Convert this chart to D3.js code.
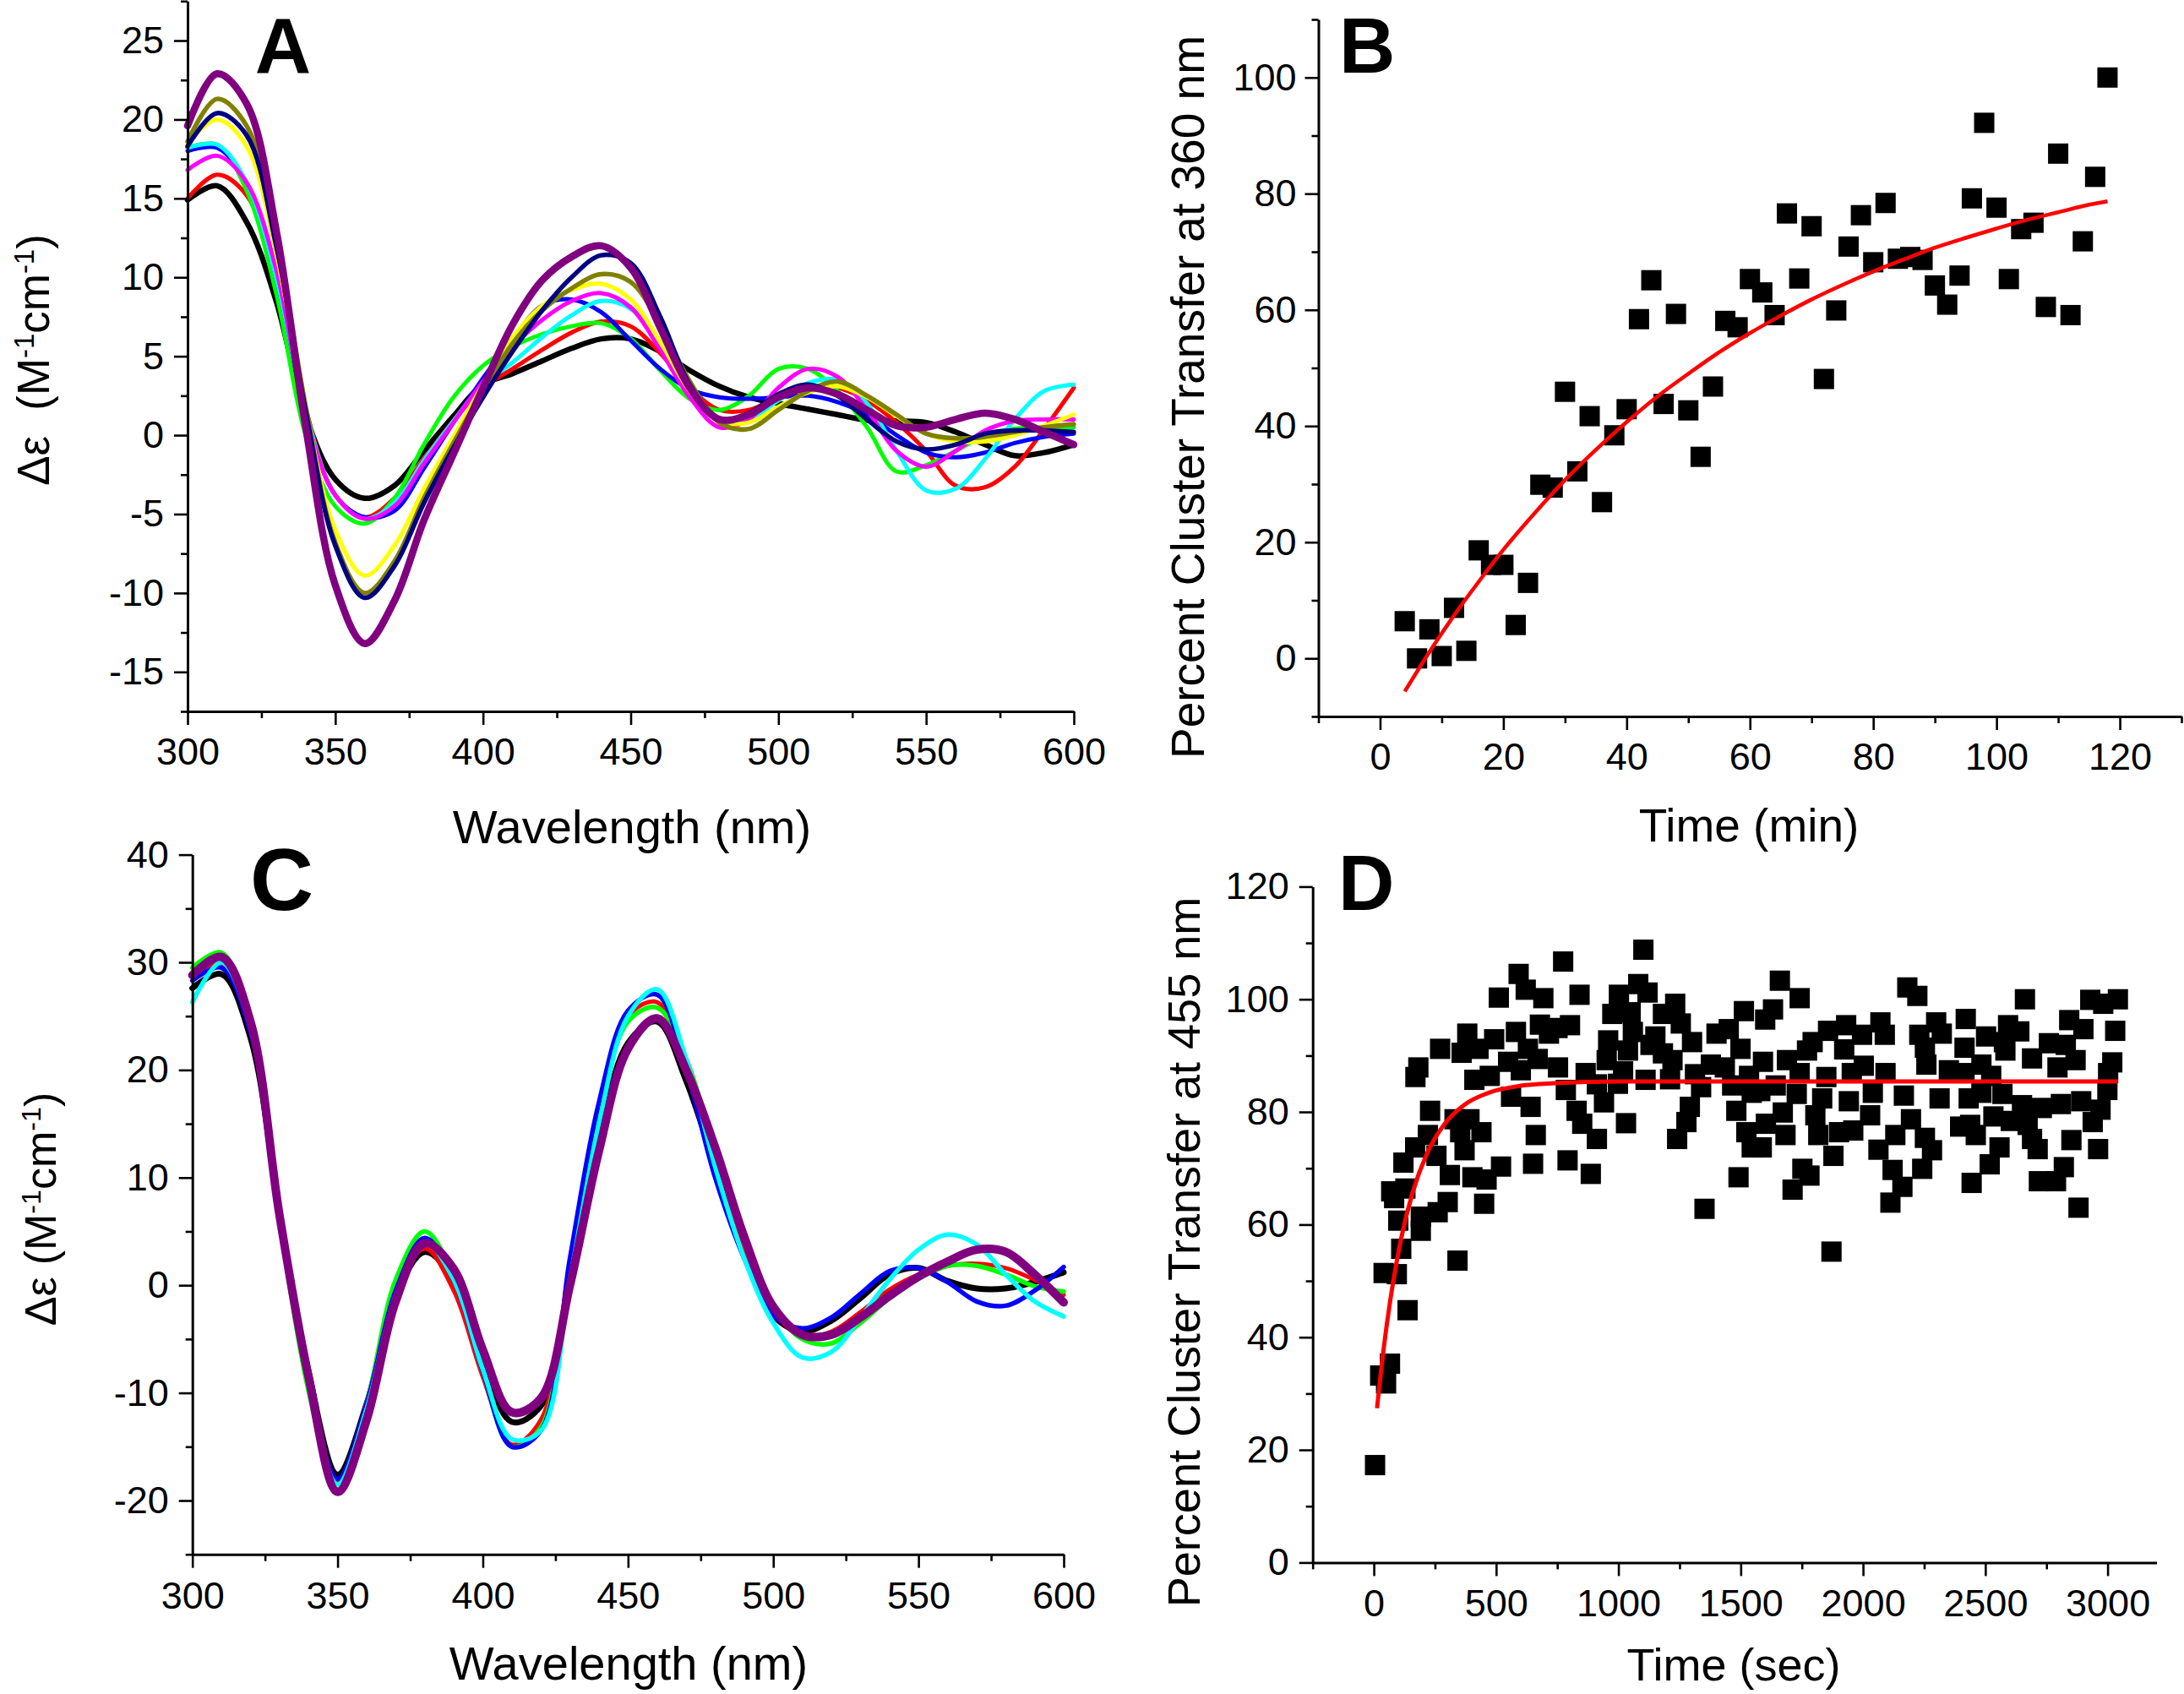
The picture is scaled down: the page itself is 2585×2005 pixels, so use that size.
<!DOCTYPE html>
<html><head><meta charset="utf-8">
<script src="https://cdn.jsdelivr.net/npm/d3@7"></script>
<style>
body{margin:0;background:#fff}
svg text{font-family:"Liberation Sans",Arial,Helvetica,sans-serif}
</style>
</head><body>
<svg id="fig" width="2585" height="2005" xmlns="http://www.w3.org/2000/svg"></svg>
<script>
// ---------------- Panel A: CD spectra (wavelength grid, nm) ----------------
const wlA = [300,310,320,330,340,350,360,370,380,390,400,410,420,430,440,450,460,470,480,490,500,510,520,530,540,550,560,570,580,590,600];
const aBlack   = [14.9,15.8,13.5,8.5,1.2,-2.8,-4.0,-3.2,-1.0,1.2,3.2,3.9,4.7,5.5,6.1,6.1,5.3,4.1,3.1,2.4,2.0,1.65,1.3,0.95,0.9,0.8,0.2,-0.6,-1.3,-1.1,-0.6];
const aRed     = [15.0,16.5,15.2,10.2,1.7,-3.8,-5.2,-4.0,-1.5,0.9,3.0,4.2,5.4,6.5,7.2,6.9,5.2,3.0,1.6,1.6,2.4,3.0,3.0,2.2,0.8,-1.0,-3.2,-3.3,-2.0,0.4,3.0];
const aGreen   = [18.2,18.4,15.5,9.0,0.0,-4.5,-5.6,-4.0,-0.6,2.4,4.4,5.6,6.4,6.9,7.1,6.1,4.1,2.3,1.6,2.5,4.2,4.2,2.8,0.5,-2.3,-1.9,-1.0,0.0,0.4,0.5,0.5];
const aBlue    = [18.0,18.2,16.0,10.0,1.5,-3.8,-5.2,-4.8,-2.1,0.8,3.6,6.1,8.2,8.6,7.8,6.0,4.2,2.9,2.4,2.3,2.4,2.5,2.1,1.3,0.0,-1.1,-1.4,-1.1,-0.5,-0.1,0.1];
const aCyan    = [18.2,18.4,16.0,10.0,1.5,-3.8,-5.3,-4.3,-1.6,0.9,3.2,4.6,6.2,7.6,8.5,8.0,5.9,3.0,1.0,1.0,2.2,3.3,3.5,2.0,-1.0,-3.5,-3.4,-1.5,1.0,2.8,3.2];
const aMagenta = [16.8,17.7,16.0,10.5,1.3,-3.8,-5.3,-4.5,-1.8,0.8,3.4,5.6,7.3,8.5,9.0,8.1,5.4,2.4,0.5,1.0,3.0,4.2,3.7,1.6,-1.0,-2.0,-1.0,0.3,0.9,1.0,1.0];
const aYellow  = [18.5,20.0,18.3,11.5,1.7,-6.0,-8.9,-7.0,-3.4,-0.1,3.2,6.2,8.2,9.2,9.6,8.6,5.9,2.8,0.9,0.8,1.8,2.7,3.1,2.4,1.2,0.1,-0.4,-0.4,0.0,0.6,1.3];
const aOlive   = [18.6,21.3,19.6,12.5,1.8,-6.8,-10.0,-8.0,-4.0,-0.5,2.8,5.8,7.9,9.3,10.2,9.7,7.0,3.4,0.8,0.4,1.6,2.8,3.4,2.5,1.3,0.1,-0.2,-0.1,0.2,0.5,0.7];
const aNavy    = [18.3,20.4,19.0,12.0,1.5,-7.0,-10.3,-8.3,-4.3,-0.8,2.4,5.3,7.9,10.0,11.4,10.9,7.5,3.2,1.0,1.4,2.6,3.2,2.5,1.0,-0.4,-0.9,-0.6,0.1,0.3,0.3,0.2];
const aPurple  = [19.6,22.9,21.0,13.0,0.5,-9.5,-13.2,-10.5,-5.4,-1.2,3.0,7.0,9.8,11.3,12.0,10.6,6.8,3.0,1.0,1.3,2.4,3.0,2.6,1.6,0.6,0.5,1.0,1.4,1.0,0.2,-0.6];

// ---------------- Panel C: CD spectra ----------------
const wlC = [300,310,320,330,340,350,360,370,380,390,400,410,420,430,440,450,460,470,480,490,500,510,520,530,540,550,560,570,580,590,600];
const cBlack  = [27.6,28.9,23.0,6.5,-8.0,-17.6,-11.0,-1.0,3.1,0.5,-7.0,-12.7,-11.2,0.5,13.5,22.5,24.5,19.0,11.0,3.0,-2.8,-4.3,-3.3,-1.2,1.0,1.6,0.4,-0.3,-0.3,0.3,1.2];
const cRed    = [28.8,29.9,23.5,6.5,-8.8,-18.3,-11.5,-1.0,3.4,-0.5,-8.5,-14.8,-12.5,2.0,16.0,25.0,26.3,20.5,11.5,3.5,-2.5,-4.7,-4.3,-2.5,-0.4,1.0,1.8,2.0,1.6,0.5,-0.9];
const cGreen  = [29.5,30.9,24.0,6.0,-9.8,-19.0,-11.0,0.5,5.0,0.8,-8.0,-15.0,-13.2,1.5,15.5,24.5,25.8,21.0,12.5,4.5,-2.0,-5.0,-5.4,-3.5,-1.2,0.6,1.8,1.8,1.0,-0.1,-0.6];
const cBlue   = [28.3,29.5,23.5,7.0,-8.5,-18.0,-11.0,-0.5,4.4,0.5,-8.0,-15.0,-13.5,2.5,17.0,25.5,27.0,20.0,10.0,2.5,-2.8,-4.0,-3.0,-0.8,1.3,1.6,0.3,-1.5,-1.9,-0.5,1.7];
const cCyan   = [26.3,30.0,24.0,7.0,-9.0,-18.5,-11.5,-1.0,4.0,0.5,-7.8,-14.3,-13.5,0.5,15.0,25.0,27.5,21.0,11.0,2.5,-3.5,-6.7,-6.2,-3.0,0.5,3.3,4.7,3.8,1.0,-1.5,-2.9];
const cPurple = [28.8,30.5,24.5,6.5,-8.5,-19.2,-12.5,-1.5,3.9,1.5,-6.0,-11.8,-10.5,0.0,12.5,22.0,24.8,20.0,12.8,4.5,-2.0,-4.6,-4.6,-3.0,-1.0,0.8,2.2,3.3,3.1,1.0,-1.6];

// ---------------- Panel B: cluster transfer at 360 nm ----------------
const bTime = [4,6,8,10,12,14,16,18,20,22,24,26,28,30,32,34,36,38,40,42,44,46,48,50,52,54,56,58,60,62,64,66,68,70,72,74,76,78,80,82,84,86,88,90,92,94,96,98,100,102,104,106,108,110,112,114,116,118];
const bPct  = [6.4,0,5.0,0.4,8.7,1.3,18.6,16.1,16.1,5.75,13.0,29.9,29.4,45.9,32.2,41.7,26.9,38.4,42.9,58.4,65.1,43.8,59.3,42.7,34.7,46.8,58.1,57.0,65.3,63.0,59.1,76.6,65.4,74.4,48.1,59.9,70.9,76.3,68.2,78.4,68.8,69.1,68.6,64.2,60.9,65.9,79.2,92.2,77.6,65.3,73.9,75.0,60.5,86.9,59.1,71.8,82.9,100];
const bFitTime = [4,8,12,16,20,25,30,35,40,45,50,55,60,65,70,75,80,85,90,95,100,105,110,115,118];
const bFitPct  = [-5.7,1.1,7.4,13.2,18.7,24.9,30.7,35.9,40.7,45.1,49.0,52.7,56.0,59.0,61.8,64.3,66.6,68.7,70.7,72.4,74.0,75.5,76.8,78.1,78.7];

// ---------------- Panel D: cluster transfer at 455 nm ----------------
const dTime = [5,26,50,66,138,
 592,621,693,511,581,679,716,382,492,271,359,428,630,182,170,549,411,474,601,670,561,641,230,330,391,440,221,353,169,256,371,662,121,311,403,461,520,651,71,129,83,302,451,100,192,261,192,112,342,40,94,
 774,1102,841,1002,1081,1119,975,1050,1182,1232,1255,802,751,1513,958,1059,1151,1301,1401,1451,1499,1221,952,1039,1131,1182,753,866,1019,1111,1211,1313,1378,1435,1534,785,912,998,1338,1465,1545,829,941,1292,1482,852,1031,1278,912,1240,1523,1545,792,887,1491,1352,
 1660,1741,2181,2222,1632,1600,1931,1857,1794,1771,1996,2071,2089,1923,2230,2299,2322,2253,2259,1591,1689,1741,1850,1954,2003,2092,2351,1580,1643,1729,1833,1942,2040,2167,2313,1672,1805,2029,1603,1683,1817,1902,1960,2196,2132,2253,2397,1586,1879,2063,2282,1752,1781,2121,2242,1712,2161,2112,1871,
 2662,2929,2982,3042,2420,2593,2639,2843,2901,3031,2503,2576,2582,2415,2760,2829,2691,2869,3019,2484,2795,3002,2415,2524,2432,2484,2570,2650,2731,2809,2892,2999,2971,2939,2533,2604,2438,2673,2461,2691,2558,2714,2852,2961,2518,2444,2719,2789,2821,2881];
const dPct = [17.3,33.2,31.8,35.3,44.8,
 104.5,101.7,100.2,100.3,94.2,95.5,93.9,93.9,92.9,91.2,90.5,91.2,91.2,87.9,86.2,88.9,85.7,86.4,87.4,89.4,82.7,80.9,80.2,78.7,78.7,76.4,75.9,76.4,73.7,72.2,73.2,75.9,71.0,68.8,68.4,68.0,70.3,70.8,65.9,66.4,64.7,64.0,63.7,60.7,61.4,62.2,58.9,55.7,53.6,51.4,51.2,
 106.7,108.8,100.8,100.8,102.7,101.2,97.4,97.7,97.4,99.2,95.7,95.4,94.9,97.9,92.7,94.2,93.4,92.4,93.9,94.7,91.2,89.2,89.2,90.9,91.9,90.4,87.9,86.9,87.2,85.7,85.8,86.7,88.4,87.9,86.4,83.9,84.9,85.0,84.4,84.7,83.4,80.2,81.7,80.9,80.2,77.9,78.0,78.2,75.2,75.2,76.4,73.7,71.4,69.0,68.4,62.8,
 103.3,100.2,102.1,100.6,98.2,96.4,95.4,94.4,92.4,90.9,93.7,95.9,93.7,91.1,93.7,95.9,93.9,91.4,88.4,88.9,89.2,86.9,86.2,86.9,88.2,86.9,87.4,83.7,84.7,83.2,82.4,81.9,83.4,82.9,82.4,79.9,79.4,79.4,77.9,75.9,75.9,76.4,76.7,78.7,75.9,75.4,77.4,73.7,72.2,73.3,73.2,69.9,68.7,69.7,69.9,66.2,66.7,63.9,55.2,
 100.0,99.9,99.2,100.0,96.5,95.4,94.3,96.3,94.7,94.4,93.4,92.4,90.9,91.4,92.2,91.9,89.5,89.2,88.8,88.4,87.9,86.9,86.9,86.4,82.4,83.4,83.2,81.2,80.7,81.4,81.9,83.9,80.4,78.2,79.2,78.4,77.7,77.7,75.9,75.2,73.7,73.4,75.0,73.4,70.7,67.4,67.7,67.7,70.2,63.0];
const dFitTime = [13,40,66,90,112,158,215,290,371,463,601,739,1000,1500,2000,2500,3042];
const dFitPct  = [27.4,37.9,46.2,52.6,57.6,65.6,72.4,77.9,81.3,83.3,84.65,85.1,85.4,85.4,85.4,85.4,85.4];

// ---------------- Tick values ----------------
const wlMajor = [300,350,400,450,500,550,600];
const wlMinor = [325,375,425,475,525,575];
const aYMajor = [-15,-10,-5,0,5,10,15,20,25];
const aYMinor = [-17.5,-12.5,-7.5,-2.5,2.5,7.5,12.5,17.5,22.5,27.5];
const cYMajor = [-20,-10,0,10,20,30,40];
const cYMinor = [-25,-15,-5,5,15,25,35];
const bXMajor = [0,20,40,60,80,100,120];
const bXMinor = [-10,10,30,50,70,90,110,130];
const bYMajor = [0,20,40,60,80,100];
const bYMinor = [-10,10,30,50,70,90,110];
const dXMajor = [0,500,1000,1500,2000,2500,3000];
const dXMinor = [-250,250,750,1250,1750,2250,2750];
const dYMajor = [0,20,40,60,80,100,120];
const dYMinor = [10,30,50,70,90,110];

// ---------------- Drawing ----------------
const svg = d3.select("#fig");
svg.append("rect").attr("width",2585).attr("height",2005).attr("fill","#fff");
const FONT = '"Liberation Sans", Arial, Helvetica, sans-serif';

function drawAxes(x, y, c) {
  const bottom = y.range()[0], left = x.range()[0];
  const fmt = d => String(d);
  const gx = svg.append("g").attr("transform",`translate(0,${bottom})`)
    .call(d3.axisBottom(x).tickValues(c.xMajor).tickSize(16).tickSizeOuter(0).tickPadding(c.xPad).tickFormat(fmt));
  const gxm = svg.append("g").attr("transform",`translate(0,${bottom})`)
    .call(d3.axisBottom(x).tickValues(c.xMinor).tickSize(8).tickSizeOuter(0).tickFormat(""));
  gxm.select(".domain").remove();
  const gy = svg.append("g").attr("transform",`translate(${left},0)`)
    .call(d3.axisLeft(y).tickValues(c.yMajor).tickSize(16).tickSizeOuter(0).tickPadding(c.yPad).tickFormat(fmt));
  const gym = svg.append("g").attr("transform",`translate(${left},0)`)
    .call(d3.axisLeft(y).tickValues(c.yMinor).tickSize(8).tickSizeOuter(0).tickFormat(""));
  gym.select(".domain").remove();
  [gx,gxm,gy,gym].forEach(g=>{
    g.attr("font-size",45).attr("font-family",FONT);
    g.selectAll(".domain").attr("stroke","#000").attr("stroke-width",3);
    g.selectAll(".tick line").attr("stroke","#000").attr("stroke-width",2.6);
    g.selectAll(".tick text").attr("fill","#000");
  });
}

function textAt(x, y, str, size, opts={}) {
  const t = svg.append("text").attr("x",x).attr("y",y).attr("font-size",size)
    .attr("font-family",FONT).attr("fill","#000")
    .attr("text-anchor",opts.anchor||"middle");
  if (opts.bold) t.attr("font-weight","bold");
  if (opts.rotate) t.attr("transform",`rotate(-90,${x},${y})`);
  t.text(str);
  return t;
}

function deltaLabel(x, y, size, gap) {
  const t = svg.append("text").attr("x",x).attr("y",y).attr("font-size",size)
    .attr("font-family",FONT).attr("text-anchor","middle")
    .attr("transform",`rotate(-90,${x},${y})`);
  t.append("tspan").text("\u0394\u03b5");
  t.append("tspan").attr("dx",gap).text("(M");
  t.append("tspan").attr("baseline-shift","super").attr("font-size",size*0.62).text("-1");
  t.append("tspan").text("cm");
  t.append("tspan").attr("baseline-shift","super").attr("font-size",size*0.62).text("-1");
  t.append("tspan").text(")");
}

function drawSpectra(xs, ys, wl, series) {
  const line = d3.line().x((d,i)=>xs(wl[i])).y(d=>ys(d)).curve(d3.curveCatmullRom.alpha(0.5));
  series.forEach(([v,col,w])=>{
    svg.append("path").attr("d",line(v)).attr("fill","none").attr("stroke",col)
      .attr("stroke-width",w).attr("stroke-linejoin","round").attr("stroke-linecap","round");
  });
}

// ---- Panel A ----
const xA = d3.scaleLinear().domain([300,600]).range([222,1271]);
const yA = d3.scaleLinear().domain([-17.5,27.5]).range([842,1.3]);
drawSpectra(xA, yA, wlA, [
  [aBlack,"#000000",6.5],[aRed,"#ff0000",5],[aGreen,"#00ff00",5],[aBlue,"#0000ff",5],
  [aCyan,"#00ffff",5],[aMagenta,"#ff00ff",5],[aYellow,"#ffff00",5],[aOlive,"#808000",5.5],
  [aNavy,"#000080",5.5],[aPurple,"#800080",8.5]]);
drawAxes(xA,yA,{xMajor:wlMajor,xMinor:wlMinor,yMajor:aYMajor,yMinor:aYMinor,xPad:15,yPad:12});
textAt(748,998,"Wavelength (nm)",56);
deltaLabel(58,426,53,30);
textAt(335,86,"A",92,{bold:true});

// ---- Panel C ----
const xC = d3.scaleLinear().domain([300,600]).range([227.7,1259]);
const yC = d3.scaleLinear().domain([-25,40]).range([1839.7,1011.6]);
drawSpectra(xC, yC, wlC, [[cBlack,"#000000",7],[cRed,"#ff0000",5],[cGreen,"#00ff00",5.5],[cBlue,"#0000ff",5.5],[cCyan,"#00ffff",5.5],[cPurple,"#800080",10]]);
drawAxes(xC,yC,{xMajor:wlMajor,xMinor:wlMinor,yMajor:cYMajor,yMinor:cYMinor,xPad:16,yPad:12});
textAt(744,1988,"Wavelength (nm)",56);
deltaLabel(66,1431,52,14);
textAt(296,1077,"C",104,{bold:true,anchor:"start"});

// ---- Panel B ----
const xB = d3.scaleLinear().domain([-10,130]).range([1560.5,2582]);
const yB = d3.scaleLinear().domain([-10,110]).range([848,23]);
const sqB = 24;
svg.append("g").selectAll("rect").data(bTime).join("rect")
  .attr("x",(d)=>xB(d)-sqB/2).attr("y",(d,i)=>yB(bPct[i])-sqB/2)
  .attr("width",sqB).attr("height",sqB).attr("fill","#000");
svg.append("path").attr("d",d3.line().x((d,i)=>xB(bFitTime[i])).y(d=>yB(d)).curve(d3.curveCatmullRom.alpha(0.5))(bFitPct))
  .attr("fill","none").attr("stroke","#ff0000").attr("stroke-width",4.5);
drawAxes(xB,yB,{xMajor:bXMajor,xMinor:bXMinor,yMajor:bYMajor,yMinor:bYMinor,xPad:15,yPad:10});
textAt(2070,996,"Time (min)",55);
textAt(1425,470,"Percent Cluster Transfer at 360 nm",55,{rotate:true});
textAt(1585,86,"B",92,{bold:true,anchor:"start"});

// ---- Panel D ----
const xD = d3.scaleLinear().domain([-250,3200]).range([1553.7,2552.5]);
const yD = d3.scaleLinear().domain([0,120]).range([1849.4,1049.4]);
const sqD = 24;
svg.append("g").selectAll("rect").data(dTime).join("rect")
  .attr("x",(d)=>xD(d)-sqD/2).attr("y",(d,i)=>yD(dPct[i])-sqD/2)
  .attr("width",sqD).attr("height",sqD).attr("fill","#000");
svg.append("path").attr("d",d3.line().x((d,i)=>xD(dFitTime[i])).y(d=>yD(d)).curve(d3.curveMonotoneX)(dFitPct))
  .attr("fill","none").attr("stroke","#ff0000").attr("stroke-width",5);
drawAxes(xD,yD,{xMajor:dXMajor,xMinor:dXMinor,yMajor:dYMajor,yMinor:dYMinor,xPad:16,yPad:12});
textAt(2052,1989,"Time (sec)",54);
textAt(1420,1482,"Percent Cluster Transfer at 455 nm",54,{rotate:true});
textAt(1584,1077,"D",92,{bold:true,anchor:"start"});
</script>
</body></html>
